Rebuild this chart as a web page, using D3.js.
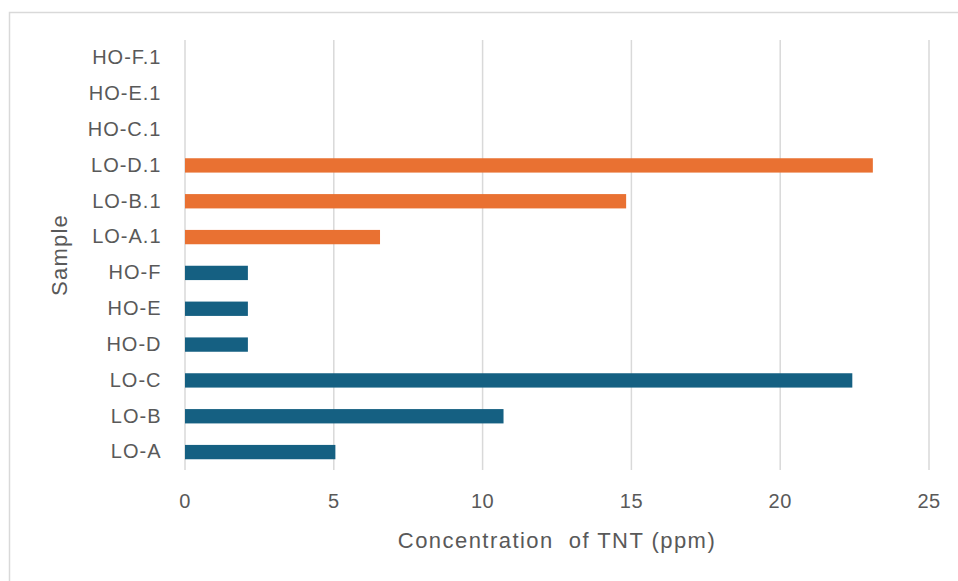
<!DOCTYPE html>
<html>
<head>
<meta charset="utf-8">
<script src="https://cdn.jsdelivr.net/npm/d3@7"></script>
<style>
  html, body { margin: 0; padding: 0; background: #fff; }
  svg { display: block; }
  text { font-family: "Liberation Sans", Arial, sans-serif; fill: #595959; }
</style>
</head>
<body>
<svg id="chart" width="958" height="581"></svg>
<script>
// Sample names, listed bottom to top
const samples = ["LO-A", "LO-B", "LO-C", "HO-D", "HO-E", "HO-F",
                 "LO-A.1", "LO-B.1", "LO-D.1", "HO-C.1", "HO-E.1", "HO-F.1"];
// TNT concentration (ppm) per sample; null = no bar
const concentrations = [5.07, 10.72, 22.44, 2.13, 2.13, 2.13,
                        6.57, 14.84, 23.13, null, null, null];
// Group of each sample: first set or ".1" set
const groups = ["a", "a", "a", "a", "a", "a", "b", "b", "b", "b", "b", "b"];
const xTicks = [0, 5, 10, 15, 20, 25];

const colors = { a: "#156082", b: "#E97132" };
const FONT = "Liberation Sans, Arial, sans-serif";

const svg = d3.select("#chart");
const margin = { left: 184.5, right: 29.5, top: 40, bottom: 111 };
const W = 958, H = 581;

// Outer chart frame
svg.append("rect")
  .attr("x", 9.5).attr("y", 12.5)
  .attr("width", 960).attr("height", 600)
  .attr("fill", "none").attr("stroke", "#d9d9d9").attr("stroke-width", 1.5);

const x = d3.scaleLinear().domain([0, 25]).range([margin.left, W - margin.right]);
const y = d3.scaleBand().domain(samples.slice().reverse())
  .range([margin.top, H - margin.bottom]).paddingInner(0.6).paddingOuter(0.3);

// Vertical gridlines
const grid = svg.append("g")
  .attr("transform", `translate(0,${H - margin.bottom})`)
  .call(d3.axisBottom(x).tickValues(xTicks).tickSize(-(H - margin.bottom - margin.top)).tickFormat(""));
grid.select(".domain").remove();
grid.selectAll(".tick line").attr("stroke", "#d9d9d9").attr("stroke-width", 1.5);

// Bars
const rows = samples.map((s, i) => ({ s, v: concentrations[i], g: groups[i] }))
  .filter(d => d.v !== null);
svg.append("g").selectAll("rect").data(rows).join("rect")
  .attr("x", x(0) + 0.5)
  .attr("y", d => y(d.s))
  .attr("width", d => x(d.v) - x(0) - 0.5)
  .attr("height", y.bandwidth())
  .attr("fill", d => colors[d.g]);

// X tick labels
const xa = svg.append("g")
  .attr("transform", `translate(0,${H - margin.bottom})`)
  .call(d3.axisBottom(x).tickValues(xTicks).tickSize(0).tickPadding(24).tickFormat(d3.format("d")));
xa.attr("font-family", FONT).attr("font-size", 20);
xa.select(".domain").remove();
xa.selectAll("text").attr("fill", "#595959").attr("letter-spacing", "0.5px");

// Y tick labels
const ya = svg.append("g")
  .attr("transform", `translate(${margin.left},0)`)
  .call(d3.axisLeft(y).tickSize(0).tickPadding(23));
ya.attr("font-family", FONT).attr("font-size", 20);
ya.select(".domain").remove();
ya.selectAll("text").attr("fill", "#595959").attr("letter-spacing", "1px");

// Axis titles
svg.append("text")
  .attr("x", 557).attr("y", 548)
  .attr("text-anchor", "middle")
  .attr("font-size", 22)
  .attr("letter-spacing", "1.45px")
  .attr("xml:space", "preserve")
  .style("white-space", "pre")
  .text("Concentration  of TNT (ppm)");

svg.append("text")
  .attr("transform", "translate(67,255) rotate(-90)")
  .attr("text-anchor", "middle")
  .attr("font-size", 22)
  .attr("letter-spacing", "1.2px")
  .text("Sample");
</script>
</body>
</html>
